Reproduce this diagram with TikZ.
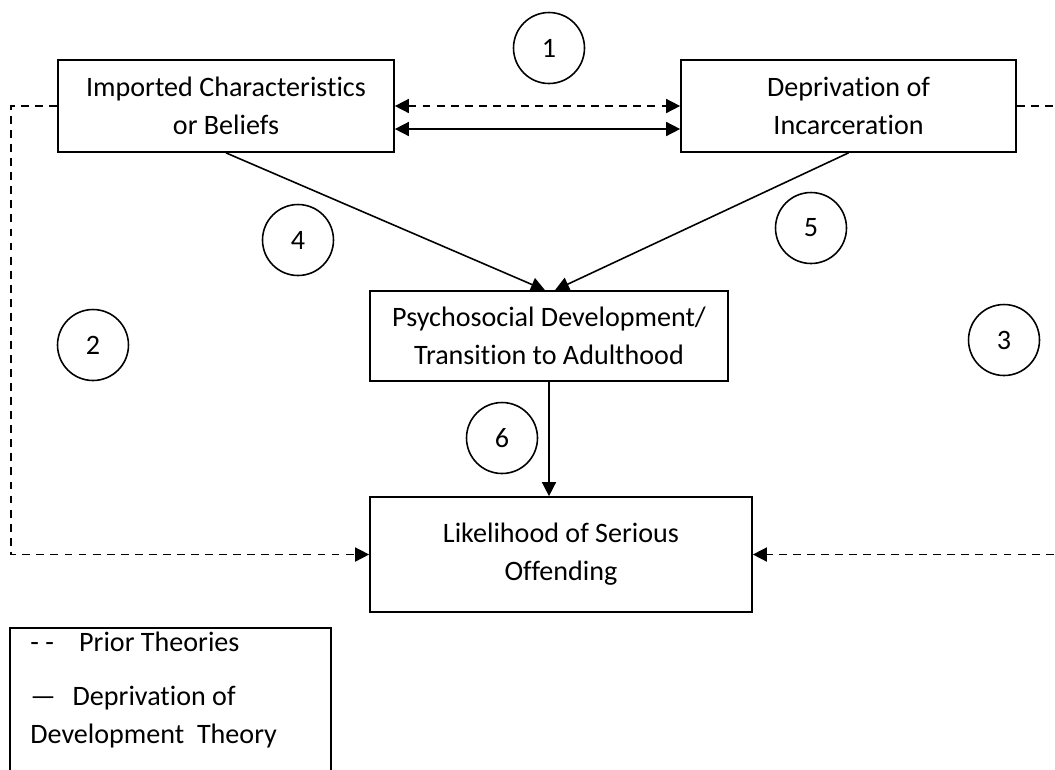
\documentclass[tikz,border=0pt]{standalone}
\usepackage{fontspec}
\setmainfont{Carlito}[Ligatures=NoCommon]
\usepackage{tikz}
\usetikzlibrary{arrows.meta}

\begin{document}
\begin{tikzpicture}[x=0.02cm, y=-0.02cm,
		every node/.style={font=\fontsize{16}{21.5}\selectfont},
		box/.style={draw, line width=1pt, align=center, inner sep=0pt},
		num/.style={draw, circle, line width=0.9pt, minimum size=1.42cm, inner sep=0pt},
		link/.style={line width=0.9pt, -{Triangle[length=8pt, width=8pt]}},
		prior/.style={link, dash pattern=on 4.5pt off 3.5pt}]
		
		\useasboundingbox (0,0) rectangle (1055,769);
		\clip (0,0) rectangle (1055,769);
		
		\node [box, minimum width=6.72cm, minimum height=1.84cm] (imported) at (226,106) {Imported Characteristics\\or Beliefs};
		\node [box, minimum width=6.70cm, minimum height=1.84cm] (deprivation) at (848.5,106) {Deprivation of\\Incarceration};
		\node [box, minimum width=7.16cm, minimum height=1.80cm] (psycho) at (549,336) {Psychosocial Development/\\Transition to Adulthood};
		\node [box, minimum width=7.64cm, minimum height=2.30cm] (likelihood) at (561,554.5) {Likelihood of Serious\\Offending};
		
		\node [num] (one) at (549,48) {1};
		\node [num] (two) at (93,345) {2};
		\node [num] (three) at (1004,340) {3};
		\node [num] (four) at (298,240) {4};
		\node [num] (five) at (811,228) {5};
		\node [num] (six) at (502,438) {6};
		
		\coordinate (left rail) at (11,0);
		\coordinate (right rail) at (1064,0);
		
		% links between the two sources
		\draw [prior, {Triangle[length=8pt, width=8pt]}-{Triangle[length=8pt, width=8pt]}] (imported.east) -- (deprivation.west);
		\draw [link, {Triangle[length=8pt, width=8pt]}-{Triangle[length=8pt, width=8pt]}] ([yshift=-0.46cm]imported.east) -- ([yshift=-0.46cm]deprivation.west);
		
		\draw [link] (imported.south) -- ([xshift=-0.08cm]psycho.north);
		\draw [link] (deprivation.south) -- ([xshift=0.12cm]psycho.north);
		\draw [link] (psycho.south) -- (psycho.south |- likelihood.north);
		
		% prior theories
		\draw [prior] (imported.west) -| (left rail |- likelihood.west) -- (likelihood.west);
		\draw [prior] (deprivation.east) -| (right rail |- likelihood.east) -- (likelihood.east);
		
		% legend
		\draw [line width=1pt] (10,800) -- (10,628) coordinate (legend corner) -- (331,628) -- (331,800);
		\node [anchor=north west, align=left, inner sep=0pt] (legend) at (30,632) {- -\hspace{0.9em}Prior Theories\\[9pt]
			—\hspace{0.6em}Deprivation of\\Development\ \ Theory};
		
	\end{tikzpicture}
\end{document}
